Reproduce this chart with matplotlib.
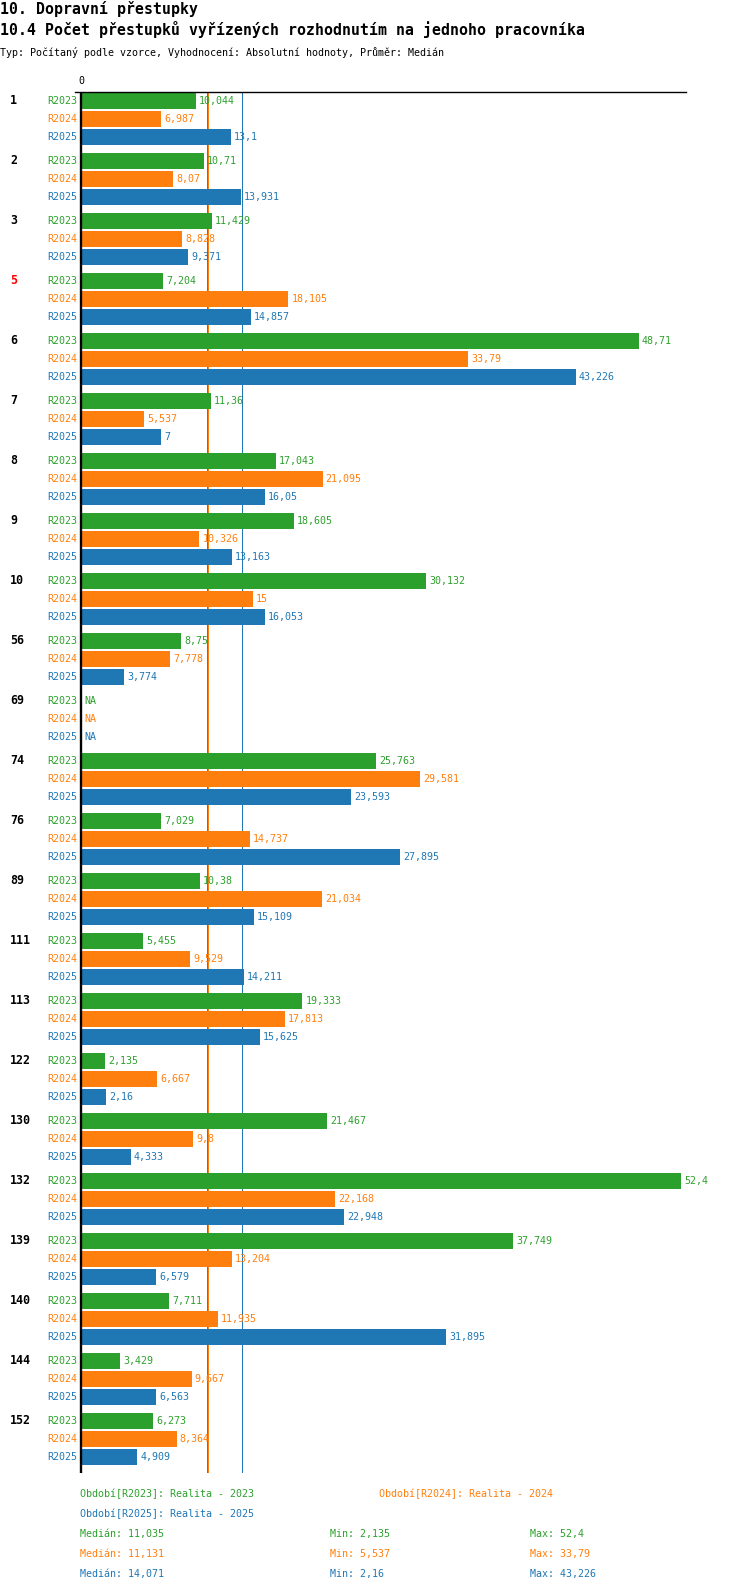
import numpy as np
import matplotlib
matplotlib.use("Agg")
import matplotlib.pyplot as plt
import matplotlib.transforms as mtransforms

plt.rcParams['font.family'] = ['DejaVu Sans Mono']

# ---------------- data ----------------
groups = ["1", "2", "3", "5", "6", "7", "8", "9", "10", "56", "69", "74", "76",
          "89", "111", "113", "122", "130", "132", "139", "140", "144", "152"]
highlight = ["5"]
series = ["R2023", "R2024", "R2025"]
series_desc = ["Realita - 2023", "Realita - 2024", "Realita - 2025"]
nan = np.nan
r2023 = [10.044, 10.71, 11.429, 7.204, 48.71, 11.36, 17.043, 18.605, 30.132, 8.75, nan,
         25.763, 7.029, 10.38, 5.455, 19.333, 2.135, 21.467, 52.4, 37.749, 7.711, 3.429, 6.273]
r2024 = [6.987, 8.07, 8.828, 18.105, 33.79, 5.537, 21.095, 10.326, 15, 7.778, nan,
         29.581, 14.737, 21.034, 9.529, 17.813, 6.667, 9.8, 22.168, 13.204, 11.935, 9.667, 8.364]
r2025 = [13.1, 13.931, 9.371, 14.857, 43.226, 7, 16.05, 13.163, 16.053, 3.774, nan,
         23.593, 27.895, 15.109, 14.211, 15.625, 2.16, 4.333, 22.948, 6.579, 31.895, 6.563, 4.909]
values = [r2023, r2024, r2025]
colors = ["#2ca02c", "#ff7f0e", "#1f77b4"]

title1 = "10. Dopravní přestupky"
title2 = "10.4 Počet přestupků vyřízených rozhodnutím na jednoho pracovníka"
title3 = "Typ: Počítaný podle vzorce, Vyhodnocení: Absolutní hodnoty, Průměr: Medián"


def fmt(v):
    s = f"{v:.3f}".rstrip('0').rstrip('.')
    return s.replace('.', ',')


# ---------------- layout ----------------
W, H = 750, 1592
DPI = 100
fig = plt.figure(figsize=(W / DPI, H / DPI), dpi=DPI)

px_left, px_right, px_top, px_bot = 75, 686, 92, 1473
ax = fig.add_axes([px_left / W, 1 - px_bot / H, (px_right - px_left) / W, (px_bot - px_top) / H])

scale = 11.45  # px per unit
ax.set_xlim(-(81 - px_left) / scale, (px_right - 81) / scale)
ax.set_ylim(22.567, -0.45)

FS = 7.2
bar_off = 0.3
bar_h = 0.2667

for k, (vals, col, name) in enumerate(zip(values, colors, series)):
    ys = np.arange(len(groups)) + (k - 1) * bar_off
    vals = np.array(vals, dtype=float)
    ok = ~np.isnan(vals)
    ax.barh(ys[ok], vals[ok], height=bar_h, color=col, linewidth=0, zorder=2)
    for y, v in zip(ys, vals):
        ax.annotate(name, xy=(0, y), xytext=(-2.7, 0), textcoords='offset points',
                    ha='right', va='center', fontsize=FS, color=col, annotation_clip=False)
        if np.isnan(v):
            ax.annotate("NA", xy=(0, y), xytext=(2.3, 0), textcoords='offset points',
                        ha='left', va='center', fontsize=FS, color=col, annotation_clip=False,
                        zorder=5)
        else:
            ax.annotate(fmt(v), xy=(v, y), xytext=(2.2, 0), textcoords='offset points',
                        ha='left', va='center', fontsize=FS, color=col, annotation_clip=False,
                        zorder=5)

# medians (drawn behind the bars)
meds = [np.nanmedian(np.array(v, dtype=float)) for v in values]
mins = [np.nanmin(np.array(v, dtype=float)) for v in values]
maxs = [np.nanmax(np.array(v, dtype=float)) for v in values]
for m, col in zip(meds, colors):
    ax.axvline(m, color=col, lw=0.72, zorder=1, antialiased=False)

ax.axvline(0, color='black', lw=1.7, zorder=4)

# group labels
trans = mtransforms.blended_transform_factory(fig.transFigure, ax.transData)
for i, g in enumerate(groups):
    ax.text(10 / W, i - bar_off, g, transform=trans, ha='left', va='center',
            fontsize=8.4, fontweight='bold', color='red' if g in highlight else 'black')

# spines / ticks
for s in ['left', 'right', 'bottom']:
    ax.spines[s].set_visible(False)
ax.spines['top'].set_linewidth(1.0)
ax.set_xticks([])
ax.set_yticks([])
ax.annotate("0", xy=(0, -0.45), xytext=(0, 7.9), textcoords='offset points',
            ha='center', va='center', fontsize=FS, color='black', annotation_clip=False)

# titles
def ftext(x, y, s, **kw):
    fig.text(x / W, 1 - y / H, s, va='center', ha='left', **kw)

ftext(0, 9, title1, fontsize=10.7, fontweight='bold')
ftext(0, 30, title2, fontsize=10.7, fontweight='bold')
ftext(0, 52, title3, fontsize=FS)

# legend
ftext(80, 1494, f"Období[{series[0]}]: {series_desc[0]}", fontsize=FS, color=colors[0])
ftext(379, 1494, f"Období[{series[1]}]: {series_desc[1]}", fontsize=FS, color=colors[1])
ftext(80, 1514, f"Období[{series[2]}]: {series_desc[2]}", fontsize=FS, color=colors[2])
for k in range(3):
    y = 1534 + 20 * k
    ftext(80, y, f"Medián: {fmt(meds[k])}", fontsize=FS, color=colors[k])
    ftext(330, y, f"Min: {fmt(mins[k])}", fontsize=FS, color=colors[k])
    ftext(530, y, f"Max: {fmt(maxs[k])}", fontsize=FS, color=colors[k])

fig.savefig("out.png", dpi=DPI)
